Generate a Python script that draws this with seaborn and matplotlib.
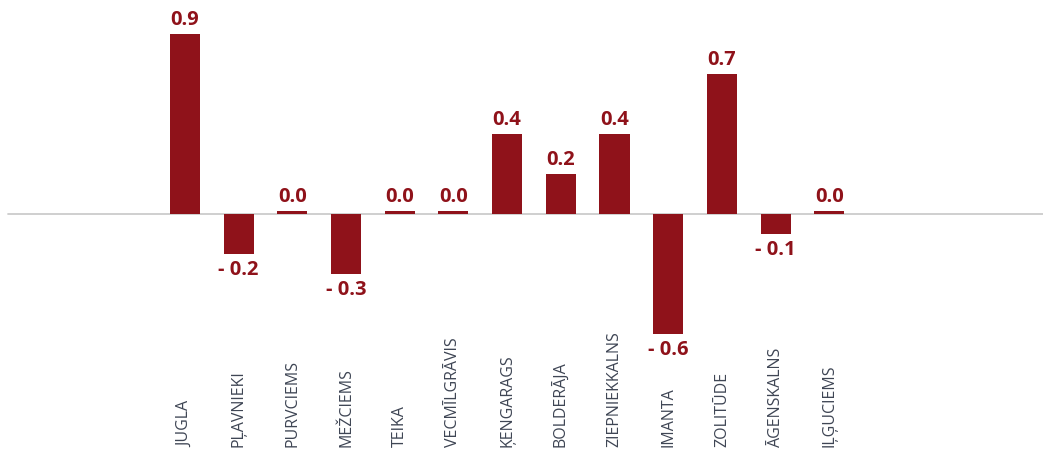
import numpy as np
import pandas as pd
import matplotlib.pyplot as plt
import seaborn as sns

districts = ["JUGLA", "PĻAVNIEKI", "PURVCIEMS", "MEŽCIEMS", "TEIKA", "VECMĪLGRĀVIS",
             "ĶENGARAGS", "BOLDERĀJA", "ZIEPNIEKKALNS", "IMANTA", "ZOLITŪDE",
             "ĀGENSKALNS", "IĻĢUCIEMS"]
change = [0.9, -0.2, 0.0, -0.3, 0.0, 0.0, 0.4, 0.2, 0.4, -0.6, 0.7, -0.1, 0.0]

bar_color = "#8f121a"
text_color = "#3e4554"

sns.set_style("white")
plt.rcParams['font.family'] = ['Open Sans', 'DejaVu Sans']

df = pd.DataFrame({"district": districts, "change": change})
# zero values still show a thin bar
df["shown"] = np.where(np.abs(df["change"]) < 0.01, 0.015, df["change"])

fig = plt.figure(figsize=(10.43, 4.72), dpi=100)
ax = fig.add_axes([0, 0, 1, 1])

sns.barplot(data=df, x="district", y="shown", color=bar_color, saturation=1,
            width=0.56, linewidth=0, ax=ax)

ax.set_xlim(-3.445, 15.98)
ax.set_ylim(-1.29, 1.07)
ax.axhline(0, xmin=8 / 1043, xmax=1, color="#cccccc", lw=1.3, zorder=0)

for i, v in enumerate(df["change"]):
    if v < -0.001:
        ax.text(i, df["shown"][i] - 0.03, f"- {abs(v):.1f}", ha="center", va="top",
                color=bar_color, fontsize=14.5, fontweight="bold")
    else:
        ax.text(i, df["shown"][i] + 0.02, f"{v:.1f}", ha="center", va="bottom",
                color=bar_color, fontsize=14.5, fontweight="bold")
    ax.text(i, -1.165, districts[i], rotation=90, ha="center", va="bottom",
            color=text_color, fontsize=11.5)

ax.set_axis_off()
fig.savefig("out.png", dpi=100)
